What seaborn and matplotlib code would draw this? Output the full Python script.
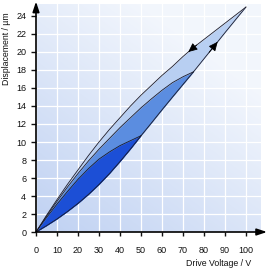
import numpy as np
import matplotlib
matplotlib.use("Agg")
import matplotlib.pyplot as plt
import seaborn as sns

# ---- data ----
volt = [0, 5, 10, 15, 20, 25, 30, 35, 40, 45, 50, 55, 60, 65, 70, 75, 80, 85, 90, 95, 100]
# common ascending branch (0 -> 100 V)
asc_um = [0, 0.7, 1.45, 2.28, 3.18, 4.18, 5.28, 6.5, 7.83, 9.23, 10.7, 12.13, 13.58, 15.0,
          16.4, 17.8, 19.25, 20.7, 22.15, 23.58, 25.0]
# descending branch from 100 V
desc100_um = [0, 1.85, 3.6, 5.3, 6.9, 8.5, 10.0, 11.4, 12.7, 14.0, 15.2, 16.3, 17.4, 18.4,
              19.5, 20.5, 21.4, 22.3, 23.2, 24.1, 25.0]
# descending branch from 75 V
desc75_um = [0, 1.75, 3.4, 5.0, 6.5, 7.9, 9.2, 10.4, 11.6, 12.7, 13.8, 14.8, 15.75, 16.6,
             17.25, 17.8]
# descending branch from 50 V
desc50_um = [0, 1.6, 3.1, 4.5, 5.85, 7.05, 8.1, 8.9, 9.6, 10.15, 10.7]

x_ticks = [0, 10, 20, 30, 40, 50, 60, 70, 80, 90, 100]
y_ticks = [0, 2, 4, 6, 8, 10, 12, 14, 16, 18, 20, 22, 24]
x_label = "Drive Voltage / V"
y_label = "Displacement / µm"

loop_colors = ["#b8cff2", "#5b8de0", "#1c4fd6"]

sns.set_style("white")
plt.rcParams['font.family'] = ['Liberation Sans', 'DejaVu Sans']

fig = plt.figure(figsize=(2.72, 2.70), dpi=100)
ax = fig.add_axes([36 / 272, 38 / 270, 231 / 272, 230.4 / 270])
ax.set_xlim(0, 110)
ax.set_ylim(0, 25.6)

# gradient background panel
nx, ny = 200, 200
gx, gy = np.meshgrid(np.linspace(0, 1, nx), np.linspace(0, 1, ny))
t = np.clip(0.55 * gx + 0.75 * gy, 0, 1)[..., None]
c0 = np.array([0.75, 0.82, 0.95])
c1 = np.array([0.95, 0.965, 0.99])
img = c0 * (1 - t) + c1 * t
ax.imshow(img, extent=[0, 107, 0, 25.3], origin="lower", aspect="auto", zorder=0)

ax.set_axisbelow(True)
ax.grid(True, color="white", lw=0.9, zorder=0.5)

# hysteresis loops
v = np.array(volt, dtype=float)
a = np.array(asc_um)
loops = [(desc100_um, loop_colors[0]), (desc75_um, loop_colors[1]), (desc50_um, loop_colors[2])]
for i, (d, col) in enumerate(loops):
    n = len(d)
    vv = v[:n]
    aa = a[:n]
    dd = np.array(d)
    ax.fill_between(vv, aa, dd, color=col, lw=0, zorder=2 + i)
    ax.plot(vv, aa, color="#1a1a2a", lw=0.6, zorder=2.5 + i)
    ax.plot(vv, dd, color="#1a1a2a", lw=0.6, zorder=2.5 + i)

# direction arrows on largest loop
d100 = np.array(desc100_um)
for x0, x1, branch in [(76.5, 72.5, d100), (82.5, 86.5, a)]:
    ax.annotate("", xy=(x1, np.interp(x1, v, branch)), xytext=(x0, np.interp(x0, v, branch)),
                arrowprops=dict(arrowstyle="-|>,head_length=0.55,head_width=0.25",
                                color="black", lw=0.6, shrinkA=0, shrinkB=0), zorder=6)

# axes with arrows
for s in ax.spines.values():
    s.set_visible(False)
ax.annotate("", xy=(1.0, 0), xytext=(0, 0), xycoords="axes fraction",
            arrowprops=dict(arrowstyle="-|>,head_length=0.6,head_width=0.2", color="black",
                            lw=1.2, shrinkA=0, shrinkB=0), annotation_clip=False, zorder=7)
ax.annotate("", xy=(0, 1.0), xytext=(0, 0), xycoords="axes fraction",
            arrowprops=dict(arrowstyle="-|>,head_length=0.6,head_width=0.2", color="black",
                            lw=1.2, shrinkA=0, shrinkB=0), annotation_clip=False, zorder=7)

ax.set_xticks(x_ticks)
ax.set_yticks(y_ticks)
ax.set_xticklabels([str(x) for x in x_ticks])
ax.set_yticklabels([str(y) for y in y_ticks])
ax.tick_params(axis="x", direction="out", length=3, width=1, pad=7, labelsize=6.5,
               colors="#111111", bottom=True)
ax.tick_params(axis="y", direction="out", length=3.5, width=1, pad=3.5, labelsize=6.5,
               colors="#111111", left=True)

fig.text(7 / 272, 1 - 49 / 270, y_label, rotation=90, ha="center", va="center",
         fontsize=6.3, color="#111111")
fig.text(251 / 272, 1 - 263 / 270, x_label, ha="right", va="center",
         fontsize=6.3, color="#111111")

fig.savefig("out.png", dpi=100)
